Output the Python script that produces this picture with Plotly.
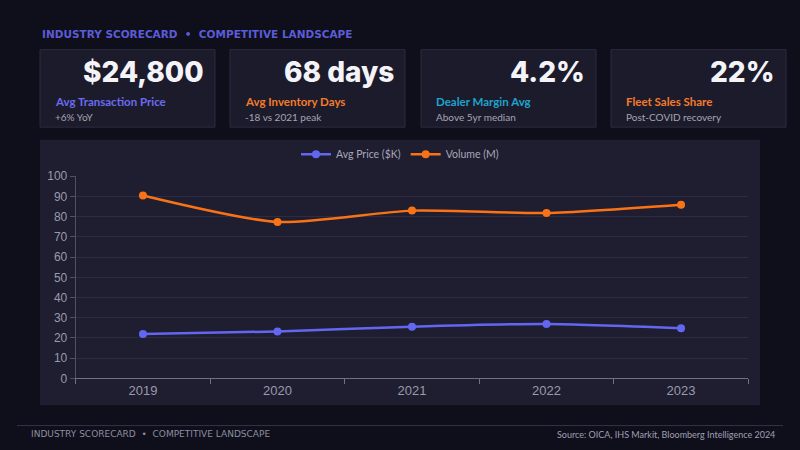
import plotly.graph_objects as go

W, H = 800, 450

years = ["2019", "2020", "2021", "2022", "2023"]
avg_price = [22.0, 23.2, 25.6, 26.9, 24.8]
volume = [90.5, 77.4, 83.0, 81.8, 85.9]

kpi_values = ["$24,800", "68 days", "4.2%", "22%"]
kpi_labels = ["Avg Transaction Price", "Avg Inventory Days", "Dealer Margin Avg", "Fleet Sales Share"]
kpi_notes = ["+6% YoY", "-18 vs 2021 peak", "Above 5yr median", "Post-COVID recovery"]
kpi_colors = ["#6a6cf0", "#f47b2a", "#1fa3cc", "#f47b2a"]

BG = "#0f0e1b"
CARD = "#1c1b2c"
PANEL = "#1f1d30"
BLUE = "#6366f1"
ORANGE = "#f97316"


def fx(px):
    return px / W


def fy(py):
    return 1 - py / H


fig = go.Figure()

fig.add_trace(go.Scatter(
    x=years, y=avg_price, name="Avg Price ($K)", mode="lines+markers",
    line=dict(color=BLUE, width=2.5, shape="spline", smoothing=0.7),
    marker=dict(color=BLUE, size=8),
))
fig.add_trace(go.Scatter(
    x=years, y=volume, name="Volume (M)", mode="lines+markers",
    line=dict(color=ORANGE, width=2.5, shape="spline", smoothing=0.7),
    marker=dict(color=ORANGE, size=8),
))

shapes = []
annotations = []

# chart panel
shapes.append(dict(type="rect", xref="paper", yref="paper", layer="below",
                   x0=fx(40), x1=fx(760), y0=fy(411), y1=fy(137),
                   fillcolor=PANEL, line=dict(width=0)))

# kpi cards
card_x = [40, 230, 421, 611]
card_w = 175
for i, x0 in enumerate(card_x):
    shapes.append(dict(type="rect", xref="paper", yref="paper", layer="below",
                       x0=fx(x0), x1=fx(x0 + card_w), y0=fy(124), y1=fy(44),
                       fillcolor=CARD, line=dict(color="#2c2b3e", width=1)))
    annotations.append(dict(xref="paper", yref="paper", x=fx(x0 + card_w - 9), y=fy(67),
                            xanchor="right", yanchor="middle", showarrow=False,
                            text=kpi_values[i],
                            font=dict(family="Inter", size=28, color="#f4f4f8", weight=800)))
    annotations.append(dict(xref="paper", yref="paper", x=fx(x0 + 13), y=fy(98),
                            xanchor="left", yanchor="middle", showarrow=False,
                            text=kpi_labels[i],
                            font=dict(family="Lato", size=11.5, color=kpi_colors[i], weight=700)))
    annotations.append(dict(xref="paper", yref="paper", x=fx(x0 + 13), y=fy(114),
                            xanchor="left", yanchor="middle", showarrow=False,
                            text=kpi_notes[i],
                            font=dict(family="Lato", size=10, color="#a5a5b5")))

# header
annotations.append(dict(xref="paper", yref="paper", x=fx(40), y=fy(28),
                        xanchor="left", yanchor="middle", showarrow=False,
                        text="INDUSTRY SCORECARD  •  COMPETITIVE LANDSCAPE",
                        font=dict(family="DejaVu Sans", size=10.5, color="#5b5cd8", weight=700)))

# footer
shapes.append(dict(type="line", xref="paper", yref="paper",
                   x0=fx(17), x1=fx(783), y0=fy(432), y1=fy(432),
                   line=dict(color="#34334a", width=1)))
annotations.append(dict(xref="paper", yref="paper", x=fx(29), y=fy(441),
                        xanchor="left", yanchor="middle", showarrow=False,
                        text="INDUSTRY SCORECARD  •  COMPETITIVE LANDSCAPE",
                        font=dict(family="DejaVu Sans", size=9, color="#8e8ea0")))
annotations.append(dict(xref="paper", yref="paper", x=fx(777), y=fy(441),
                        xanchor="right", yanchor="middle", showarrow=False,
                        text="Source: OICA, IHS Markit, Bloomberg Intelligence 2024",
                        font=dict(family="Lato", size=9, color="#a0a0b2")))

fig.update_layout(
    width=W, height=H,
    margin=dict(l=0, r=0, t=0, b=0),
    paper_bgcolor=BG, plot_bgcolor=PANEL,
    font=dict(family="Liberation Sans", color="#9a9aab"),
    showlegend=True,
    legend=dict(orientation="h", x=0.5, xanchor="center", y=fy(152), yanchor="middle",
                font=dict(family="Lato", size=10.5, color="#a8a8b8"),
                bgcolor="rgba(0,0,0,0)", itemwidth=30),
    shapes=shapes,
    annotations=annotations,
    xaxis=dict(domain=[fx(75.7), fx(748.3)], type="category", range=[-0.5, 4.5],
               showgrid=False, showline=True, linecolor="#70707f", linewidth=1,
               ticks="outside", tickson="boundaries", ticklen=5, tickcolor="#70707f",
               tickfont=dict(size=13, color="#9a9aab"), zeroline=False),
    yaxis=dict(domain=[fy(383.3), fy(174.7)], range=[0, 100], dtick=10,
               showgrid=True, gridcolor="#2d2c42", gridwidth=1,
               showline=True, linecolor="#50505f", linewidth=1,
               ticks="outside", ticklen=5, tickcolor="#50505f",
               tickfont=dict(size=12, color="#9a9aab"), zeroline=False),
)

# pin the page to the figure: no body margin, no scrollbars
page_fix = (
    "var h=document.documentElement, b=document.body;"
    "h.style.margin='0';h.style.padding='0';h.style.overflow='hidden';"
    "h.style.background='#0f0e1b';"
    "b.style.margin='0';b.style.padding='0';b.style.overflow='hidden';"
)
fig.write_html("out.html", config={"displayModeBar": False}, post_script=page_fix)
